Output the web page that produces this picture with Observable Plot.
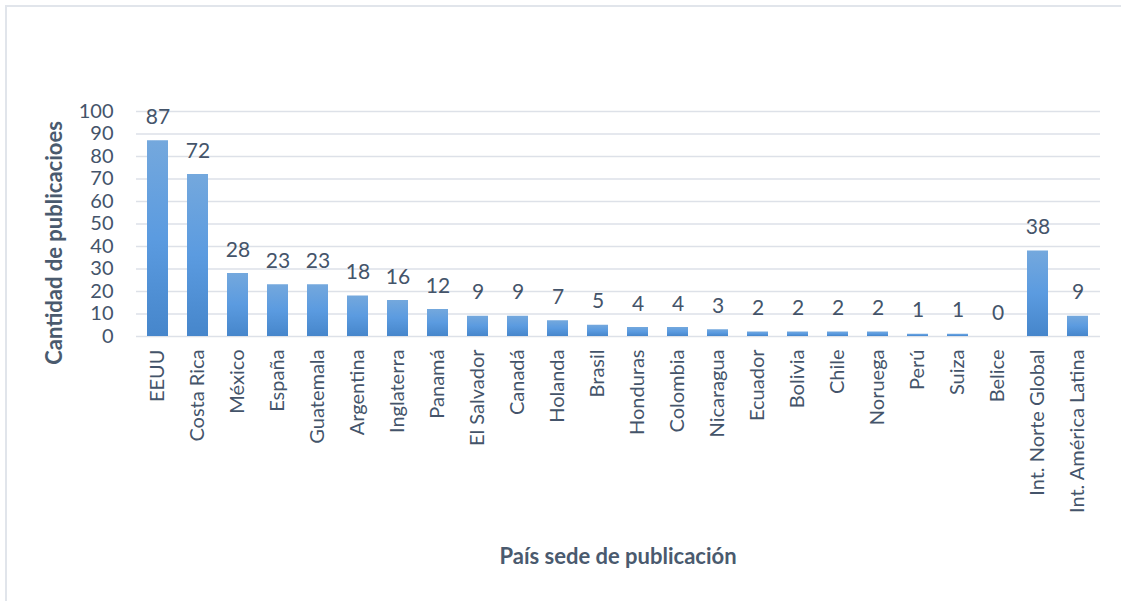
<!DOCTYPE html>
<html>
<head>
<meta charset="utf-8">
<script src="https://cdn.jsdelivr.net/npm/d3@7"></script>
<script src="https://cdn.jsdelivr.net/npm/@observablehq/plot@0.6"></script>
<style>
  body { margin: 0; background: #fff; }
  #wrap { position: relative; width: 1121px; height: 601px; overflow: hidden; }
  #border { position: absolute; left: 5px; top: 5px; width: 1300px; height: 800px;
            border-left: 2px solid #e1e5eb; border-top: 2px solid #e1e5eb; pointer-events: none; }
  svg { font-family: Lato, "Open Sans", sans-serif; }
</style>
</head>
<body>
<div id="wrap"><div id="border"></div></div>
<script>
const paises = ["EEUU", "Costa Rica", "México", "España", "Guatemala", "Argentina", "Inglaterra", "Panamá",
  "El Salvador", "Canadá", "Holanda", "Brasil", "Honduras", "Colombia", "Nicaragua", "Ecuador",
  "Bolivia", "Chile", "Noruega", "Perú", "Suiza", "Belice", "Int. Norte Global", "Int. América Latina"];
const publicaciones = [87, 72, 28, 23, 23, 18, 16, 12, 9, 9, 7, 5, 4, 4, 3, 2, 2, 2, 2, 1, 1, 0, 38, 9];
const yTicks = [0, 10, 20, 30, 40, 50, 60, 70, 80, 90, 100];

const data = paises.map((p, i) => ({pais: p, valor: publicaciones[i]}));
const textColor = "#44546a";

const chart = Plot.plot({
  width: 1121,
  height: 601,
  marginLeft: 136,
  marginRight: 21,
  marginTop: 111,
  marginBottom: 265,
  style: {fontSize: "20px", color: textColor, background: "transparent"},
  x: {domain: paises, paddingInner: 0.47, paddingOuter: 0.235, label: null},
  y: {domain: [0, 100], ticks: yTicks, label: null},
  marks: [
    () => {
      const svg = d3.create("svg:defs");
      const g = svg.append("linearGradient").attr("id", "barGrad")
        .attr("x1", 0).attr("y1", 0).attr("x2", 0).attr("y2", 1);
      g.append("stop").attr("offset", "0%").attr("stop-color", "#74a8dd");
      g.append("stop").attr("offset", "50%").attr("stop-color", "#5b9be0");
      g.append("stop").attr("offset", "100%").attr("stop-color", "#4686cb");
      return svg.node();
    },
    Plot.gridY(yTicks, {stroke: "#dde1e8", strokeOpacity: 1, strokeWidth: 1.6}),
    Plot.axisY({ticks: yTicks, tickSize: 0, tickPadding: 23, fontSize: 20, fill: textColor, label: null}),
    Plot.axisX({tickRotate: -90, tickSize: 0, tickPadding: 13, fontSize: 20, fill: textColor, label: null}),
    Plot.barY(data, {x: "pais", y: "valor", fill: "url(#barGrad)"}),
    Plot.text(data, {x: "pais", y: "valor", text: d => String(d.valor), dy: -17, lineAnchor: "bottom",
      fontSize: 21, fill: textColor})
  ]
});

chart.style.position = "absolute";
chart.style.left = "0";
chart.style.top = "0";
const svg = d3.select(chart);
svg.append("text")
  .attr("x", 618).attr("y", 558)
  .attr("text-anchor", "middle").attr("dominant-baseline", "middle")
  .attr("font-weight", "bold").attr("font-size", 22).attr("fill", "#4a5a6e")
  .text("País sede de publicación");
svg.append("text")
  .attr("transform", "translate(56,243) rotate(-90)")
  .attr("text-anchor", "middle").attr("dominant-baseline", "middle")
  .attr("font-weight", "bold").attr("font-size", 22).attr("fill", "#4a5a6e")
  .text("Cantidad de publicacioes");
document.getElementById("wrap").appendChild(chart);
</script>
</body>
</html>
